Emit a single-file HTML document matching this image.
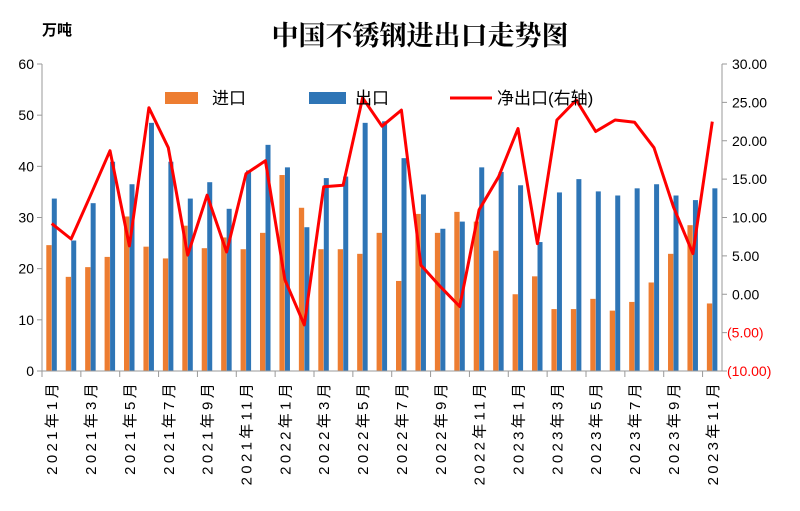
<!DOCTYPE html>
<html><head><meta charset="utf-8"><style>
body{margin:0;background:#fff}
svg{display:block;font-family:"Liberation Sans","Noto Sans CJK SC",sans-serif}
</style></head><body>
<svg width="800" height="511" viewBox="0 0 800 511" id="c">
<text x="42" y="35" font-size="15" font-weight="bold" font-family="'Noto Sans CJK SC',sans-serif">万吨</text>
<text x="420" y="45" font-size="27" font-weight="bold" text-anchor="middle" font-family="'Noto Serif CJK SC',serif">中国不锈钢进出口走势图</text>
<g id="g"></g>
</svg>
<script>
var imp=[24.6,18.4,20.3,22.3,30.2,24.3,22.0,28.4,24.0,26.1,23.8,27.0,38.3,31.9,23.8,23.8,22.9,27.0,17.6,30.7,27.0,31.1,29.2,23.5,15.0,18.5,12.1,12.1,14.1,11.8,13.5,17.3,22.9,28.5,13.2];
var exp=[33.7,25.5,32.8,40.9,36.5,48.5,40.9,33.7,36.9,31.7,39.2,44.2,39.8,28.1,37.7,38.0,48.5,48.8,41.6,34.5,27.8,29.2,39.8,38.9,36.3,25.2,34.9,37.5,35.1,34.3,35.7,36.5,34.3,33.4,35.7];
var net=[9.2,7.2,12.9,18.7,6.3,24.3,19.1,5.1,12.9,5.5,15.7,17.4,1.9,-4.0,14.0,14.2,25.6,21.9,24.0,3.8,1.0,-1.6,11.0,15.3,21.6,6.6,22.7,25.3,21.2,22.7,22.4,19.1,11.4,5.3,22.5];
var X0=42,X1=722,Y0=371,Y1=64,w=(X1-X0)/35,s='';
function yl(v){return Y0-v*(Y0-Y1)/60}
function yr(v){return Y0-(v+10)*(Y0-Y1)/40}
for(var i=0;i<35;i++){var x=X0+i*w;
s+='<rect x="'+(x+4.3)+'" y="'+yl(imp[i])+'" width="5.3" height="'+(Y0-yl(imp[i]))+'" fill="#ED7D31"/>';
s+='<rect x="'+(x+9.8)+'" y="'+yl(exp[i])+'" width="5" height="'+(Y0-yl(exp[i]))+'" fill="#2E75B6"/>';}
var p=net.map(function(v,i){return (X0+(i+0.5)*w).toFixed(1)+','+yr(v).toFixed(1)}).join(' ');
s+='<polyline points="'+p+'" fill="none" stroke="#FF0000" stroke-width="3" stroke-linejoin="round"/>';
s+='<g stroke="#999" stroke-width="1" fill="none"><path d="M'+X0+' '+Y1+'V'+Y0+'H'+X1+'V'+Y1+'"/>';
for(var k=0;k<=6;k++){var y=yl(k*10);s+='<path d="M'+(X0-5)+' '+y+'H'+X0+'"/>';}
for(var k=0;k<=8;k++){var y=Y1+k*(Y0-Y1)/8;s+='<path d="M'+X1+' '+y+'H'+(X1+5)+'"/>';}
for(var k=0;k<=35;k+=2){var x=X0+k*w;s+='<path d="M'+x+' '+Y0+'V'+(Y0+6)+'"/>';}
s+='</g>';
for(var k=0;k<=6;k++)s+='<text x="34" y="'+(yl(k*10)+5)+'" font-size="14" text-anchor="end">'+k*10+'</text>';
var rl=['30.00','25.00','20.00','15.00','10.00','5.00','0.00','(5.00)','(10.00)'];
for(var k=0;k<=8;k++){var y=Y1+k*(Y0-Y1)/8;s+='<text x="'+(k>=7?727:732)+'" y="'+(y+5)+'" font-size="14" fill="'+(k>=7?'#FF0000':'#000')+'">'+rl[k]+'</text>';}
for(var i=0;i<35;i+=2){var x=X0+(i+0.5)*w+5.5;var yr_=2021+Math.floor(i/12),m=i%12+1;
s+='<text transform="translate('+x+',380) rotate(-90)" font-size="15" text-anchor="end" letter-spacing="3.3">'+yr_+'年'+m+'月</text>';}
s+='<rect x="165" y="92" width="33" height="12" fill="#ED7D31"/><text x="212" y="104" font-size="17">进口</text>';
s+='<rect x="309" y="92" width="37" height="12" fill="#2E75B6"/><text x="355" y="104" font-size="17">出口</text>';
s+='<path d="M450 98H492" stroke="#FF0000" stroke-width="3"/><text x="497" y="104" font-size="17">净出口(右轴)</text>';
document.getElementById('g').innerHTML=s;
</script>
</body></html>
